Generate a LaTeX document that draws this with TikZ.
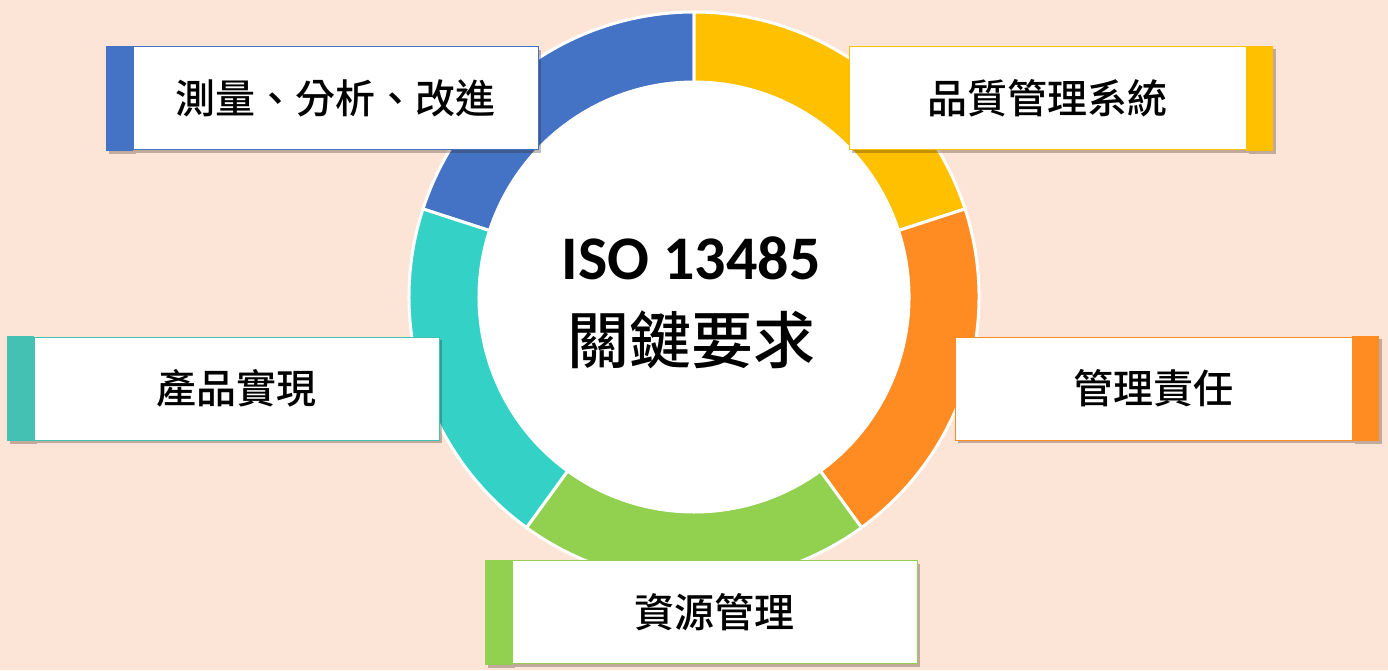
\documentclass[tikz,border=0pt]{standalone}
\usepackage{fontspec}
\usepackage{tikz}
\usetikzlibrary{positioning,shadows}
\newfontfamily\cjk{Noto Sans CJK TC Medium}
\newfontfamily\isofont{Carlito Bold}
\definecolor{bgpeach}{HTML}{FCE4D6}
\definecolor{ringblue}{HTML}{4472C4}
\definecolor{ringyellow}{HTML}{FFC000}
\definecolor{ringorange}{HTML}{FF8C22}
\definecolor{ringgreen}{HTML}{92D050}
\definecolor{ringteal}{HTML}{33D1C6}
\definecolor{tabteal}{HTML}{45C1B3}
\tikzset{item/.style={rectangle,draw,thin,fill=white,minimum width=405pt,minimum height=103pt,inner sep=0pt,
			font=\cjk\fontsize{40}{48}\selectfont,
			drop shadow={shadow xshift=3pt,shadow yshift=-3pt,opacity=0.3,fill=black!70!brown}},
		tab/.style={rectangle,minimum width=27pt,minimum height=105pt,inner sep=0pt,
			drop shadow={shadow xshift=3pt,shadow yshift=-3pt,opacity=0.3,fill=black!70!brown}},
		segment/.style={draw=white,line width=3pt}}

\begin{document}
\begin{tikzpicture}[x=1pt,y=1pt]
		\fill[bgpeach] (0,0) rectangle (1388,-670);
		\begin{scope}[shift={(694,-297)}]
			\foreach \a/\b/\c in {90/162/ringblue,18/90/ringyellow,-54/18/ringorange,-126/-54/ringgreen,-198/-126/ringteal}
				\filldraw[segment,fill=\c] (\a:285) arc[start angle=\a,end angle=\b,radius=285] -- (\b:215) arc[start angle=\b,end angle=\a,radius=215] -- cycle;
			\fill[white] (0,0) circle (216);
		\end{scope}
		\node[font=\isofont\fontsize{62}{72}\selectfont] (iso) at (691,-258) {ISO 13485};
		\node[font=\cjk\fontsize{62}{72}\selectfont] (keyreq) at (691,-340) {關鍵要求};

		\node[tab,fill=ringblue] (measure-tab) at (119.5,-98) {};
		\node[item,draw=ringblue,right=0pt of measure-tab] (measure) {測量、分析、改進};
		\node[item,draw=ringyellow,minimum width=397pt] (qms) at (1047.5,-98) {品質管理系統};
		\node[tab,fill=ringyellow,right=0pt of qms] (qms-tab) {};
		\node[item,draw=ringorange,minimum width=397pt] (mgmt) at (1153.5,-388.5) {管理責任};
		\node[tab,fill=ringorange,right=0pt of mgmt] (mgmt-tab) {};
		\node[tab,fill=tabteal] (product-tab) at (20,-388.5) {};
		\node[item,draw=tabteal,right=0pt of product-tab] (product) {產品實現};
		\node[tab,fill=ringgreen] (resource-tab) at (498.5,-612) {};
		\node[item,draw=ringgreen,right=0pt of resource-tab] (resource) {資源管理};
	\end{tikzpicture}
\end{document}
